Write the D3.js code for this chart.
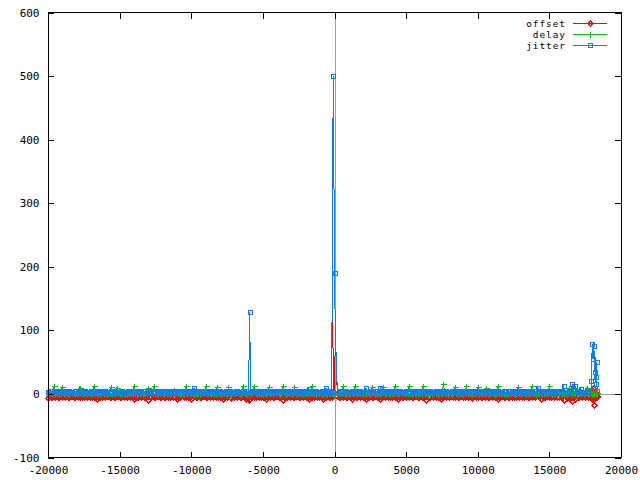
<!DOCTYPE html>
<html><head><meta charset="utf-8">
<script src="https://cdn.jsdelivr.net/npm/d3@7"></script>
<style>body{margin:0;background:#fff}svg{display:block}</style>
</head><body><svg id="c" width="640" height="480"></svg>
<script>
const times=[
-20000,-19900,-19800,-19700,-19600,-19500,-19400,-19300,-19200,-19100,-19000,-18900,-18800,-18700,-18600,-18500,-18400,-18300,-18200,-18100,
-18000,-17900,-17800,-17700,-17600,-17500,-17400,-17300,-17200,-17100,-17000,-16900,-16800,-16700,-16600,-16500,-16400,-16300,-16200,-16100,
-16000,-15900,-15800,-15700,-15600,-15500,-15400,-15300,-15200,-15100,-15000,-14900,-14800,-14700,-14600,-14500,-14400,-14300,-14200,-14100,
-14000,-13900,-13800,-13700,-13600,-13500,-13400,-13300,-13200,-13100,-13000,-12900,-12800,-12700,-12600,-12500,-12400,-12300,-12200,-12100,
-12000,-11900,-11800,-11700,-11600,-11500,-11400,-11300,-11200,-11100,-11000,-10900,-10800,-10700,-10600,-10500,-10400,-10300,-10200,-10100,
-10000,-9900,-9800,-9700,-9600,-9500,-9400,-9300,-9200,-9100,-9000,-8900,-8800,-8700,-8600,-8500,-8400,-8300,-8200,-8100,
-8000,-7900,-7800,-7700,-7600,-7500,-7400,-7300,-7200,-7100,-7000,-6900,-6800,-6700,-6600,-6500,-6400,-6300,-6200,-6100,
-6000,-5960,-5920,-5860,-5800,-5700,-5600,-5500,-5400,-5300,-5200,-5100,-5000,-4900,-4800,-4700,-4600,-4500,-4400,-4300,-4200,-4100,
-4000,-3900,-3800,-3700,-3600,-3500,-3400,-3300,-3200,-3100,-3000,-2900,-2800,-2700,-2600,-2500,-2400,-2300,-2200,-2100,
-2000,-1900,-1800,-1700,-1600,-1500,-1400,-1300,-1200,-1100,-1000,-900,-800,-700,-600,-500,-400,-300,
-200,-140,-90,-40,0,60,200,300,400,500,600,700,800,900,1000,1100,1200,1300,1400,1500,1600,1700,1800,1900,
2000,2100,2200,2300,2400,2500,2600,2700,2800,2900,3000,3100,3200,3300,3400,3500,3600,3700,3800,3900,
4000,4100,4200,4300,4400,4500,4600,4700,4800,4900,5000,5100,5200,5300,5400,5500,5600,5700,5800,5900,
6000,6100,6200,6300,6400,6500,6600,6700,6800,6900,7000,7100,7200,7300,7400,7500,7600,7700,7800,7900,
8000,8100,8200,8300,8400,8500,8600,8700,8800,8900,9000,9100,9200,9300,9400,9500,9600,9700,9800,9900,
10000,10100,10200,10300,10400,10500,10600,10700,10800,10900,11000,11100,11200,11300,11400,11500,11600,11700,11800,11900,
12000,12100,12200,12300,12400,12500,12600,12700,12800,12900,13000,13100,13200,13300,13400,13500,13600,13700,13800,13900,
14000,14100,14200,14300,14400,14500,14600,14700,14800,14900,15000,15100,15200,15300,15400,15500,15600,15700,15800,15900,
16000,16100,16200,16300,16400,16500,16600,16700,16800,16900,17000,17100,17200,17300,17400,17500,17600,17700,17800,
17900,17930,17960,17990,18020,18050,18080,18110,18140,18170,18200,18230,18260,18300,18330];

const offset=[
-7,-4,-5,-4.5,-3.5,-5,-4,-4.5,-5.5,-4,-4.5,-3.5,-5,-4,-4.5,-5,-4,-3.5,-4.5,-5,
-4,-5,-4.5,-3.5,-4.5,-5.5,-4,-4.5,-3.5,-5,-4,-4.5,-5,-3.5,-8,-5,-4.5,-4,-5.5,-4,
-5,-4,-3.5,-4.5,-5,-4,-4.5,-5.5,-4,-3.5,-5,-4.5,-4,-5,-3.5,-4.5,-4,-5,-4,-4.5,
-8,-4,-5,-4.5,-3.5,-5,-4,-4.5,-5.5,-4,-9,-3.5,-5,-4,-4.5,-5,-4,-3.5,-4.5,-5,
-4,-5,-4.5,-3.5,-4.5,-5.5,-4,-4.5,-3.5,-5,-8.5,-4.5,-5,-3.5,-4,-5,-4.5,-4,-5.5,-4,
-8,-4,-3.5,-4.5,-5,-4,-4.5,-5.5,-4,-3.5,-5,-4.5,-4,-5,-3.5,-4.5,-4,-5,-4,-4.5,
-4.5,-4,-8,-4.5,-3.5,-5,-4,-4.5,-7,-4,-4.5,-3.5,-5,-4,-4.5,-5,-4,-3.5,-8,-5,
-9,-10,-8,-5,-4.5,-4,-5,-4.5,-3.5,-5,-4,-4.5,-5,-4,-8,-4.5,-4,-5,-3.5,-4.5,-5,-4,
-4,-5,-4.5,-3.5,-9,-5.5,-4,-4.5,-3.5,-5,-4,-4.5,-5,-3.5,-4,-5,-4.5,-4,-5.5,-4,
-4.5,-4,-8,-5,-4.5,-3.5,-5,-4,-4.5,-5.5,-4,-4.5,-8.5,-4,-5,-3.5,-4.5,-5,
-4.5,248,5,3,2,97,-4,-5,-4.5,-3.5,-5,-4,-4.5,-5.5,-4,-4.5,-8,-5,-4,-4.5,-5,-3.5,-4.5,-4,
-5,-4,-8.5,-4.5,-5,-4,-4.5,-5.5,-4,-3.5,-5,-4.5,-8.5,-5,-3.5,-4.5,-4,-5,-4,-4.5,
-4.5,-4,-5,-4.5,-8,-5,-4,-4.5,-5.5,-4,-4.5,-3.5,-5,-4,-4.5,-5,-4,-3.5,-4.5,-5,
-4,-5,-4.5,-3.5,-9,-5.5,-4,-4.5,-3.5,-5,-4,-4.5,-5,-3.5,-8,-5,-4.5,-4,-5.5,-4,
-5,-4,-3.5,-4.5,-5,-4,-4.5,-5.5,-4,-3.5,-5,-4.5,-4,-5,-3.5,-4.5,-7,-5,-4,-4.5,
-4.5,-4,-5,-4.5,-3.5,-5,-4,-4.5,-5.5,-4,-4.5,-3.5,-5,-4,-8,-5,-4,-3.5,-4.5,-5,
-4,-5,-4.5,-3.5,-4.5,-5.5,-4,-4.5,-3.5,-5,-4,-4.5,-5,-3.5,-4,-5,-4.5,-4,-5.5,-4,
-5,-4,-3.5,-4.5,-8.5,-4,-4.5,-5.5,-4,-3.5,-5,-4.5,-4,-5,-3.5,-4.5,-4,-5,-4,-4.5,
-9.5,-4,-7,-4.5,-5,-4,-10.5,-5.5,-8,-3.5,-5,-4.5,-4,-5,-3.5,-4.5,-4,-5,-4,
-4.5,-3,22,5,-6,10,-9,-17,-6,3,-4,2,-4.5,-5,-4];

const delay=[
1,0.5,1.5,1,12,0.5,1,1.5,0.5,1,11,2,0.5,1,1.5,0.5,4,2,1,0.5,
1.5,1,10,2,1,1.5,0.5,1,2,1.5,0.5,1,13,1,0.5,2,1.5,0.5,5,1.5,
1,0.5,1.5,1,11,0.5,1,1.5,9,1,1.5,2,0.5,1,1.5,0.5,1,2,1,0.5,
12,1,0.5,2,1,1.5,0.5,1,2,1.5,10,1,4,1,12,2,1.5,0.5,1,1.5,
1,0.5,1.5,1,2,0.5,1,1.5,6,1,1.5,2,0.5,1,1.5,0.5,12,2,1,0.5,
1.5,1,0.5,2,1,1.5,0.5,1,5,1.5,12,1,1.5,1,0.5,2,1.5,0.5,11,1.5,
1,0.5,1.5,1,2,0.5,11,1.5,0.5,1,1.5,2,5,1,1.5,0.5,13,2,1,0.5,
1,1.5,0.5,1,2,1,12,1.5,0.5,1,1.5,2,0.5,1,1.5,0.5,11,2,1,0.5,4,1,
4,1,0.5,2,12,1.5,0.5,1,2,1.5,0.5,1,11,1,0.5,2,1.5,0.5,1,1.5,
1,1.5,0.5,1,12,2,1,0.5,1.5,1,5,0.5,1,2,1.5,0.5,1,1.5,
1,1.5,1,2,1.5,1,0.5,1.5,1,2,12,0.5,1,1.5,0.5,1,2,1,12,0.5,1.5,1,2,0.5,
1,0.5,1.5,1,2,0.5,11,1.5,0.5,1,1.5,2,0.5,1,11,0.5,1,2,1,0.5,
1.5,1,12,2,1,1.5,5,1,2,1.5,0.5,1,12,1,0.5,2,1.5,0.5,1,1.5,
1,0.5,13,1,2,0.5,1,1.5,0.5,1,5,2,0.5,1,1.5,0.5,15,2,1,0.5,
1.5,1,0.5,2,11,1.5,0.5,1,2,1.5,0.5,1,12,1,0.5,2,1.5,0.5,1,1.5,
11,0.5,1.5,1,2,0.5,10,1.5,0.5,1,1.5,2,0.5,1,12,0.5,1,2,1,0.5,
1.5,1,0.5,2,5,1.5,0.5,1,11,1.5,0.5,1,1.5,1,0.5,2,1.5,0.5,12,1.5,
1,0.5,1.5,1,2,0.5,1,1.5,0.5,1,12,2,0.5,1,1.5,0.5,1,2,1,0.5,
1.5,1,0.5,2,10,1.5,0.5,1,2,1.5,0.5,1,1.5,1,0.5,2,9,0.5,1,
1,1.5,1,0.5,2,4,1,1.5,0.5,1,2,1,1.5,1,0.5];

const jitter=[
3,1.5,4.5,2,3.5,5,1.5,3,4,2,4.5,2.5,1.5,4,3,5,2,3.5,1.5,4,
2,4.5,3,1.5,4,2.5,5,3,1.5,3.5,4.5,2,3,4,1.5,2.5,4.5,3,2,5,
4,2.5,1.5,3.5,5,2,3,4.5,1.5,3,2.5,4,5,1.5,3.5,2,4,3,4.5,1.5,
1.5,3.5,5,2.5,3,4.5,2,1.5,4,3.5,2,5,3,1.5,4.5,2.5,3.5,4,1.5,3,
4.5,2,3,5,1.5,3.5,4,2,3,4.5,1.5,2.5,4,3,5,2,3.5,1.5,4,3,
2,4.5,9,1.5,4,2.5,5,3,1.5,3.5,4.5,2,3,4,1.5,2.5,4.5,3,2,5,
4,2.5,1.5,3.5,5,2,3,4.5,1.5,3,2.5,4,5,1.5,3.5,2,4,3,4.5,1.5,
2,64,129,3,1.5,4,3,5,2,3.5,4.5,1.5,3,4,2,5,3.5,1.5,4,2.5,3,4.5,
1.5,3.5,5,2.5,3,4.5,2,1.5,4,3.5,2,5,3,1.5,4.5,2.5,3.5,4,1.5,3,
4.5,2,8,3,1.5,4,2.5,5,3,1.5,3.5,4.5,2,3,9,2.5,4,1.5,
3,248,500,345,190,97,2,4.5,3,1.5,4,2.5,5,3,1.5,3.5,4.5,2,3,4,1.5,2.5,4.5,3,
3,1.5,9,2,3.5,5,1.5,3,4,2,4.5,2.5,10,4,3,5,2,3.5,1.5,4,
2,4.5,3,1.5,4,2.5,5,3,1.5,3.5,4.5,2,3,4,1.5,2.5,4.5,3,2,5,
4,2.5,1.5,3.5,5,2,3,4.5,1.5,3,2.5,4,5,1.5,3.5,2,4,3,4.5,1.5,
1.5,3.5,5,2.5,3,4.5,2,1.5,4,3.5,2,5,3,1.5,4.5,2.5,3.5,4,1.5,3,
4.5,2,3,5,1.5,3.5,4,2,3,4.5,1.5,2.5,4,3,5,2,3.5,1.5,4,3,
3,1.5,4.5,2,3.5,5,1.5,3,4,2,4.5,2.5,1.5,4,3,5,2,3.5,1.5,4,
2,4.5,10,1.5,4,2.5,5,3,1.5,3.5,4.5,2,3,4,1.5,2.5,4.5,3,2,5,
12,2.5,1.5,3.5,5,2,15,4.5,13,3,2.5,4,8,1.5,3.5,2,4,3,4.5,
5,20,45,78,60,55,80,75,40,35,50,27,15,50,4];

const xTicks=[-20000,-15000,-10000,-5000,0,5000,10000,15000,20000];
const yTicks=[-100,0,100,200,300,400,500,600];
const seriesNames=["offset","delay","jitter"];
const seriesColors=["#ff0000","#00c000","#0080ff"];
const seriesShapes=["diamond","plus","square"];
const seriesValues=[offset,delay,jitter];

const FONT='"DejaVu Sans Mono", "Liberation Mono", monospace';
const svg=d3.select("#c").attr("shape-rendering","crispEdges");
const L=48,R=621,T=12.5,B=457.5;
const x=d3.scaleLinear().domain([-20000,20000]).range([L,R]);
const y=d3.scaleLinear().domain([-100,600]).range([B,T]);
svg.append("rect").attr("width",640).attr("height",480).attr("fill","#fff");

const snap=v=>Math.round(v)+0.5;

// zero axes
svg.append("line").attr("x1",L).attr("x2",R).attr("y1",snap(y(0))).attr("y2",snap(y(0)))
  .attr("stroke","#a0a0a0");
svg.append("line").attr("x1",snap(x(0))).attr("x2",snap(x(0))).attr("y1",T).attr("y2",B)
  .attr("stroke","#a0a0a0");

function marker(shape,cx,cy){
  if(shape==="diamond"){const h=2.5;return `M${cx},${cy-h}L${cx+h},${cy}L${cx},${cy+h}L${cx-h},${cy}Z`;}
  if(shape==="plus"){const h=3;return `M${cx-h},${cy}H${cx+h}M${cx},${cy-h}V${cy+h}`;}
  return `M${cx-2},${cy-2}H${cx+2}V${cy+2}H${cx-2}Z`;
}
// points are marked at every sample of the steady band, and every other sample on fast excursions
const showMarker=d=>d.i%2===0||Math.abs(d.v)<20;

const line=d3.line().x(d=>x(d.t)).y(d=>y(d.v));
seriesValues.forEach((vals,si)=>{
  const data=times.map((t,i)=>({t,v:vals[i],i})).filter(d=>d.v!==undefined);
  const g=svg.append("g");
  g.append("path").datum(data).attr("d",line).attr("fill","none")
    .attr("stroke",seriesColors[si]).attr("stroke-width",1);
  g.append("path").attr("d",data.filter(showMarker)
      .map(d=>marker(seriesShapes[si],snap(x(d.t)),snap(y(d.v)))).join(""))
    .attr("fill","none").attr("stroke",seriesColors[si]).attr("stroke-width",1);
});

// axes
const fmt=d=>String(d);
const ax=svg.append("g").attr("transform",`translate(0,${B})`)
  .call(d3.axisBottom(x).tickValues(xTicks).tickSize(-6).tickSizeOuter(0).tickPadding(9).tickFormat(fmt));
const axT=svg.append("g").attr("transform",`translate(0,${T})`)
  .call(d3.axisTop(x).tickValues(xTicks).tickSize(-6).tickSizeOuter(0).tickFormat(""));
const ay=svg.append("g").attr("transform",`translate(${L},0)`)
  .call(d3.axisLeft(y).tickValues(yTicks).tickSize(-6).tickSizeOuter(0).tickPadding(8.5).tickFormat(fmt));
const ayR=svg.append("g").attr("transform",`translate(${R},0)`)
  .call(d3.axisRight(y).tickValues(yTicks).tickSize(-6).tickSizeOuter(0).tickFormat(""));
[ax,axT,ay,ayR].forEach(g=>{
  g.select(".domain").remove();
  g.selectAll("line").attr("stroke","#000");
  g.selectAll("text").attr("font-family",FONT).attr("font-size",11).attr("fill","#000");
});
// border
svg.append("rect").attr("x",L).attr("y",T).attr("width",R-L).attr("height",B-T)
  .attr("fill","none").attr("stroke","#000");

// legend
const legY=[23.5,34.5,45.5];
seriesNames.forEach((n,i)=>{
  svg.append("text").attr("x",566).attr("y",legY[i]).attr("text-anchor","end")
    .attr("dominant-baseline","central").attr("font-family",FONT).attr("font-size",9.4)
    .attr("letter-spacing",1).attr("fill","#000").text(n);
  const yy=snap(legY[i]-0.5);
  svg.append("line").attr("x1",573).attr("x2",607).attr("y1",yy).attr("y2",yy)
    .attr("stroke",seriesColors[i]);
  svg.append("path").attr("d",marker(seriesShapes[i],590.5,yy))
    .attr("fill","none").attr("stroke",seriesColors[i]);
});
</script></body></html>
